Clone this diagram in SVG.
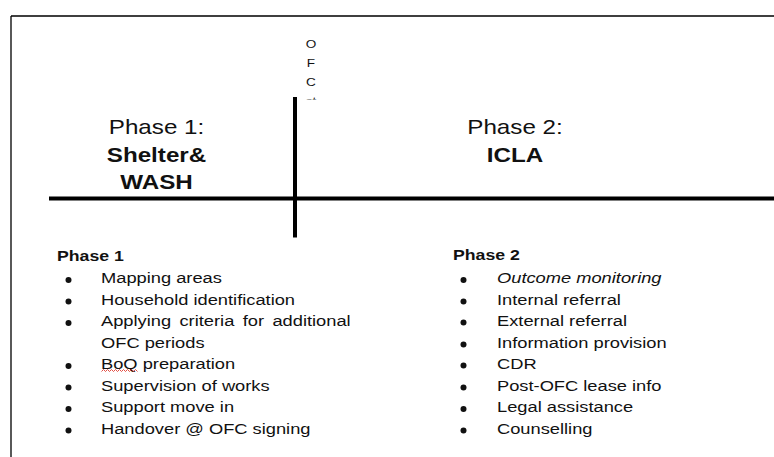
<svg xmlns="http://www.w3.org/2000/svg" width="774" height="457" viewBox="0 0 774 457">
<defs>
<style>
text{font-family:"Liberation Sans",Arial,sans-serif;fill:#111;}
.hd{font-size:20.5px;}
.hb{font-size:20.5px;font-weight:bold;}
.lh{font-size:15px;font-weight:bold;}
.li{font-size:15.5px;}
.ofc{font-size:11.5px;}
.thick{stroke:#000;stroke-width:4;fill:none;}
.frame{stroke:#000;stroke-width:1.3;fill:none;}
.bul{fill:#111;}
</style>
<clipPath id="stclip"><rect x="290" y="0" width="40" height="99.5"/></clipPath>
</defs>
<rect width="774" height="457" fill="#fff"/>
<g id="frame">
<path class="frame" d="M11 16 H774 M11 16 V457"/>
</g>
<g id="connectors">
<line class="thick" x1="49" y1="198.5" x2="774" y2="198.5"/>
<line class="thick" x1="295" y1="97" x2="295" y2="237.5"/>
</g>
<g id="ofc-label" text-anchor="middle">
<text class="ofc" transform="translate(311 48) scale(1.18 1)">O</text>
<text class="ofc" transform="translate(311 66.5) scale(1.18 1)">F</text>
<text class="ofc" transform="translate(311 85.5) scale(1.18 1)">C</text>
<g clip-path="url(#stclip)"><text class="ofc" transform="translate(311 104.5) scale(1.18 1)">st</text></g>
</g>
<g id="phase1-title" text-anchor="middle">
<text class="hd" transform="translate(156.5 134) scale(1.18 1)">Phase 1:</text>
<text class="hb" transform="translate(156.5 162) scale(1.18 1)">Shelter&amp;</text>
<text class="hb" transform="translate(156.5 189) scale(1.18 1)">WASH</text>
</g>
<g id="phase2-title" text-anchor="middle">
<text class="hd" transform="translate(515 134) scale(1.18 1)">Phase 2:</text>
<text class="hb" transform="translate(515 162) scale(1.18 1)">ICLA</text>
</g>
<g id="phase1-list">
<text class="lh" transform="translate(57 260.5) scale(1.18 1)">Phase 1</text>
<circle class="bul" cx="68.5" cy="280" r="3"/>
<circle class="bul" cx="68.5" cy="301.5" r="3"/>
<circle class="bul" cx="68.5" cy="323" r="3"/>
<circle class="bul" cx="68.5" cy="366" r="3"/>
<circle class="bul" cx="68.5" cy="387.5" r="3"/>
<circle class="bul" cx="68.5" cy="409" r="3"/>
<circle class="bul" cx="68.5" cy="430.5" r="3"/>
<text class="li" transform="translate(101 283) scale(1.18 1)">Mapping areas</text>
<text class="li" transform="translate(101 304.5) scale(1.18 1)">Household identification</text>
<text class="li" word-spacing="2.8" transform="translate(101 326) scale(1.18 1)">Applying criteria for additional</text>
<text class="li" transform="translate(101 347.5) scale(1.18 1)">OFC periods</text>
<text class="li" transform="translate(101 369) scale(1.18 1)">BoQ preparation</text>
<path d="M101.5 371.5 l2 -2 l2 2 l2 -2 l2 2 l2 -2 l2 2 l2 -2 l2 2 l2 -2 l2 2 l2 -2 l2 2 l2 -2 l2 2 l2 -2 l2 2 l2 -2 l2 2" stroke="#e03c31" stroke-width="0.9" fill="none"/>
<text class="li" transform="translate(101 390.5) scale(1.18 1)">Supervision of works</text>
<text class="li" transform="translate(101 412) scale(1.18 1)">Support move in</text>
<text class="li" transform="translate(101 433.5) scale(1.18 1)">Handover @ OFC signing</text>
</g>
<g id="phase2-list">
<text class="lh" transform="translate(453 260) scale(1.18 1)">Phase 2</text>
<circle class="bul" cx="463.5" cy="280" r="3"/>
<circle class="bul" cx="463.5" cy="301.5" r="3"/>
<circle class="bul" cx="463.5" cy="322.5" r="3"/>
<circle class="bul" cx="463.5" cy="344.5" r="3"/>
<circle class="bul" cx="463.5" cy="365.5" r="3"/>
<circle class="bul" cx="463.5" cy="387.5" r="3"/>
<circle class="bul" cx="463.5" cy="409" r="3"/>
<circle class="bul" cx="463.5" cy="430.5" r="3"/>
<text class="li" font-style="italic" transform="translate(497 283) scale(1.18 1)">Outcome monitoring</text>
<text class="li" transform="translate(497 304.5) scale(1.18 1)">Internal referral</text>
<text class="li" transform="translate(497 325.5) scale(1.18 1)">External referral</text>
<text class="li" transform="translate(497 347.5) scale(1.18 1)">Information provision</text>
<text class="li" transform="translate(497 368.5) scale(1.18 1)">CDR</text>
<text class="li" transform="translate(497 390.5) scale(1.18 1)">Post-OFC lease info</text>
<text class="li" transform="translate(497 412) scale(1.18 1)">Legal assistance</text>
<text class="li" transform="translate(497 433.5) scale(1.18 1)">Counselling</text>
</g>
</svg>
